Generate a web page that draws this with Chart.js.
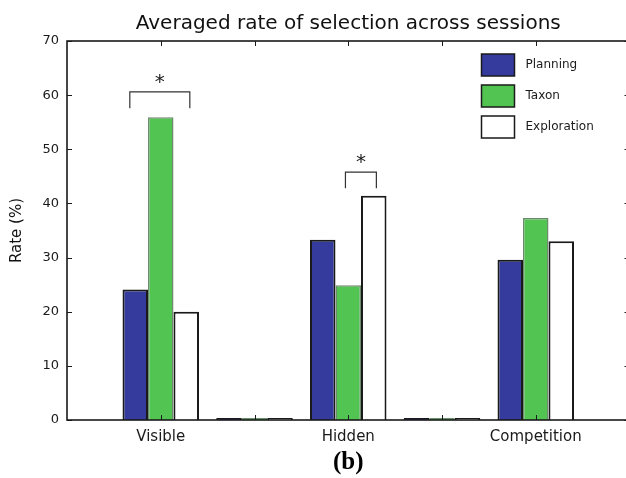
<!DOCTYPE html>
<html>
<head>
<meta charset="utf-8">
<script src="https://cdn.jsdelivr.net/npm/chart.js@4.4.1/dist/chart.umd.min.js"></script>
<style>
  html, body { margin: 0; padding: 0; background: #fff; overflow: hidden; }
  #wrap { width: 640px; height: 478px; }
</style>
</head>
<body>
<div id="wrap"><canvas id="chart"></canvas></div>
<script>
// slots: empty ones at both ends and between the groups, like the original xlim
const categories = ['', 'Visible', '', 'Hidden', '', 'Competition', ''];
const planning    = [null, 24.1, 0, 33.3, 0, 29.6, null];
const taxon       = [null, 55.9, 0, 24.9, 0, 37.3, null];
const exploration = [null, 20.0, 0, 41.4, 0, 33.0, null];
const yTicks = [0, 10, 20, 30, 40, 50, 60, 70];

// significance brackets (x in slot units, y in %)
const bracketFrom = [0.67, 2.97];
const bracketTo   = [1.31, 3.30];
const bracketTop  = [60.6, 45.8];
const bracketLeg  = [57.6, 42.8];

const FONT = "'DejaVu Sans', sans-serif";
const INK = '#1a1a1a';

const framePlugin = {
  id: 'frame',
  afterDatasetsDraw(chart) {
    const { ctx, chartArea: a, scales: { x, y } } = chart;
    ctx.save();
    ctx.strokeStyle = INK;

    // inward ticks on all four sides
    ctx.lineWidth = 1;
    ctx.beginPath();
    for (let i = 1; i < categories.length - 1; i++) {
      const px = Math.round(x.getPixelForValue(i)) + 0.5;
      ctx.moveTo(px, a.bottom); ctx.lineTo(px, a.bottom - 5);
      ctx.moveTo(px, a.top); ctx.lineTo(px, a.top + 5);
    }
    yTicks.forEach(v => {
      const py = Math.round(y.getPixelForValue(v)) + 0.5;
      ctx.moveTo(a.left, py); ctx.lineTo(a.left + 5, py);
      ctx.moveTo(a.right, py); ctx.lineTo(a.right - 5, py);
    });
    ctx.stroke();

    ctx.lineWidth = 1.6;
    ctx.strokeRect(a.left, a.top, a.right - a.left, a.bottom - a.top);

    // brackets + stars
    ctx.lineWidth = 1.2;
    ctx.strokeStyle = '#333';
    ctx.fillStyle = INK;
    ctx.font = '20px ' + FONT;
    ctx.textAlign = 'center';
    ctx.textBaseline = 'alphabetic';
    bracketFrom.forEach((f, i) => {
      const x0 = x.getPixelForValue(f), x1 = x.getPixelForValue(bracketTo[i]);
      const yt = y.getPixelForValue(bracketTop[i]), yl = y.getPixelForValue(bracketLeg[i]);
      ctx.beginPath();
      ctx.moveTo(x0, yl); ctx.lineTo(x0, yt); ctx.lineTo(x1, yt); ctx.lineTo(x1, yl);
      ctx.stroke();
      ctx.fillText('*', (x0 + x1) / 2, yt - 4);
    });

    // legend, top right inside the axes
    const lx = a.right - 148, ly = a.top + 13;
    ctx.font = '12px ' + FONT;
    ctx.textAlign = 'left';
    ctx.textBaseline = 'middle';
    chart.data.datasets.forEach((ds, i) => {
      const by = ly + i * 31;
      ctx.fillStyle = ds.backgroundColor;
      ctx.fillRect(lx, by, 33, 22);
      ctx.lineWidth = 1.5;
      ctx.strokeStyle = INK;
      ctx.strokeRect(lx, by, 33, 22);
      ctx.fillStyle = INK;
      ctx.fillText(ds.label, lx + 44, by + 11);
    });

    // title centred over the axes
    ctx.font = '20px ' + FONT;
    ctx.textAlign = 'center';
    ctx.textBaseline = 'alphabetic';
    ctx.fillStyle = '#111';
    ctx.fillText('Averaged rate of selection across sessions', (a.left + a.right) / 2, 29);
    ctx.restore();
  }
};

new Chart(document.getElementById('chart'), {
  type: 'bar',
  data: {
    labels: categories,
    datasets: [
      { label: 'Planning', data: planning, backgroundColor: '#353a9d',
        borderColor: INK, borderWidth: 2 },
      { label: 'Taxon', data: taxon, backgroundColor: '#52c452',
        borderColor: 'rgba(60,100,60,0.75)', borderWidth: 1.5 },
      { label: 'Exploration', data: exploration, backgroundColor: '#ffffff',
        borderColor: INK, borderWidth: 2 }
    ]
  },
  options: {
    responsive: true,
    maintainAspectRatio: false,
    animation: false,
    categoryPercentage: 0.816,
    barPercentage: 1,
    minBarLength: 2,
    layout: { padding: { top: 41, right: 10.5, left: 0, bottom: 0 } },
    plugins: {
      legend: { display: false },
      title: { display: false },
      tooltip: { enabled: false }
    },
    scales: {
      x: {
        offset: false,
        grid: { display: false, drawTicks: false },
        border: { display: false },
        ticks: { autoSkip: false, maxRotation: 0, padding: 8, color: '#1a1a1a',
                 font: { family: FONT, size: 15 } },
        title: { display: true, text: '(b)', color: '#000',
                 font: { family: "'Liberation Serif', serif", size: 25, weight: 'bold' },
                 padding: { top: 0, bottom: 0 } },
        afterFit: s => { s.height = 58; }
      },
      y: {
        min: 0, max: 70,
        grid: { display: false, drawTicks: false },
        border: { display: false },
        ticks: { stepSize: 10, padding: 8, color: '#1a1a1a',
                 font: { family: FONT, size: 13 } },
        title: { display: true, text: 'Rate (%)', color: '#111',
                 font: { family: FONT, size: 15 },
                 padding: { top: 8, bottom: 0 } },
        afterFit: s => { s.width = 67; }
      }
    }
  },
  plugins: [framePlugin]
});
</script>
</body>
</html>
